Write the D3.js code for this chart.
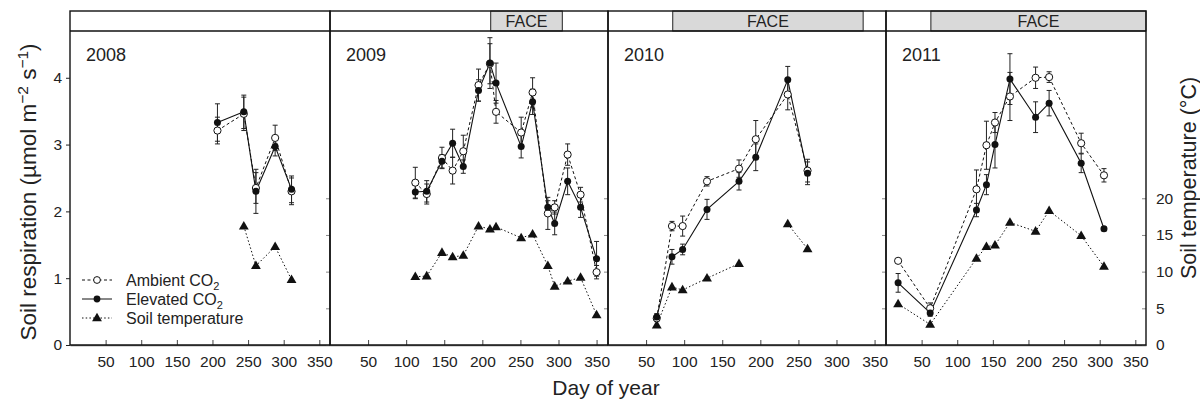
<!DOCTYPE html>
<html>
<head>
<meta charset="utf-8">
<script src="https://cdn.jsdelivr.net/npm/d3@7"></script>
<style>
  body { margin: 0; background: #fff; }
  svg { font-family: "Liberation Sans", Arial, sans-serif; }
</style>
</head>
<body>
<svg id="chart" width="1200" height="401"></svg>
<script>
const years = ["2008", "2009", "2010", "2011"];
const faceStart = [null, 211, 85, 63];
const faceEnd = [null, 305, 335, 365];
const dayTicks = [50, 100, 150, 200, 250, 300, 350];
const respTicks = [0, 1, 2, 3, 4];
const tempTicks = [0, 5, 10, 15, 20];

// 2008
const days2008 = [207, 244, 261, 288, 311];
const ambient2008 = [3.21, 3.46, 2.35, 3.10, 2.30];
const ambientSE2008 = [0.2, 0.25, 0.23, 0.19, 0.2];
const elevated2008 = [3.33, 3.49, 2.30, 2.97, 2.33];
const elevatedSE2008 = [0.28, 0.25, 0.33, 0.14, 0.2];
const tempDays2008 = [244, 261, 288, 311];
const temp2008 = [16.2, 10.8, 13.4, 8.9];

// 2009
const days2009 = [112, 127, 147, 161, 175, 195, 210, 218, 251, 266, 286, 295, 312, 329, 350];
const ambient2009 = [2.43, 2.26, 2.80, 2.61, 2.90, 3.89, 4.21, 3.49, 3.18, 3.78, 1.97, 2.06, 2.85, 2.25, 1.09];
const ambientSE2009 = [0.23, 0.15, 0.16, 0.2, 0.24, 0.24, 0.3, 0.17, 0.23, 0.22, 0.24, 0.1, 0.16, 0.11, 0.1];
const elevated2009 = [2.29, 2.30, 2.75, 3.02, 2.67, 3.81, 4.22, 3.92, 2.97, 3.64, 2.06, 1.82, 2.45, 2.06, 1.29];
const elevatedSE2009 = [0.1, 0.16, 0.1, 0.21, 0.1, 0.16, 0.38, 0.3, 0.17, 0.19, 0.1, 0.17, 0.2, 0.15, 0.26];
const tempDays2009 = [112, 127, 147, 161, 175, 195, 210, 218, 251, 266, 286, 295, 312, 329, 350];
const temp2009 = [9.3, 9.4, 12.6, 12.0, 12.2, 16.2, 15.8, 16.1, 14.6, 15.1, 10.8, 8.0, 8.7, 9.2, 4.1];

// 2010
const days2010 = [64, 84, 98, 130, 172, 194, 236, 262];
const ambient2010 = [0.40, 1.78, 1.78, 2.45, 2.64, 3.08, 3.75, 2.61];
const ambientSE2010 = [0.05, 0.07, 0.15, 0.07, 0.13, 0.28, 0.23, 0.17];
const elevated2010 = [0.42, 1.32, 1.43, 2.03, 2.45, 2.81, 3.97, 2.57];
const elevatedSE2010 = [0.05, 0.11, 0.08, 0.15, 0.13, 0.2, 0.2, 0.17];
const tempDays2010 = [64, 84, 98, 130, 172, null, 236, 262];
const temp2010 = [2.7, 7.9, 7.5, 9.1, 11.1, null, 16.5, 13.1];

// 2011
const days2011 = [17, 62, 127, 141, 153, 174, 210, 229, 274, 306];
const ambient2011 = [1.26, 0.55, 2.33, 2.99, 3.33, 3.72, 4.00, 4.01, 3.02, 2.54];
const ambientSE2011 = [0.03, 0.08, 0.29, 0.36, 0.15, 0.36, 0.16, 0.08, 0.15, 0.1];
const elevated2011 = [0.93, 0.48, 2.02, 2.40, 3.00, 3.98, 3.41, 3.62, 2.72, 1.74];
const elevatedSE2011 = [0.14, 0.05, 0.1, 0.15, 0.35, 0.38, 0.23, 0.19, 0.14, 0.03];
const tempDays2011 = [17, 62, 127, 141, 153, 174, 210, 229, 274, 306];
const temp2011 = [5.6, 2.8, 11.8, 13.4, 13.6, 16.7, 15.5, 18.3, 14.9, 10.7];

const panels = [
  { days: days2008, amb: ambient2008, ambSE: ambientSE2008, elev: elevated2008, elevSE: elevatedSE2008, tDays: tempDays2008, temp: temp2008 },
  { days: days2009, amb: ambient2009, ambSE: ambientSE2009, elev: elevated2009, elevSE: elevatedSE2009, tDays: tempDays2009, temp: temp2009 },
  { days: days2010, amb: ambient2010, ambSE: ambientSE2010, elev: elevated2010, elevSE: elevatedSE2010, tDays: tempDays2010, temp: temp2010 },
  { days: days2011, amb: ambient2011, ambSE: ambientSE2011, elev: elevated2011, elevSE: elevatedSE2011, tDays: tempDays2011, temp: temp2011 }
];

const edges = [70, 330, 608, 886, 1146];
const bandTop = 11;
const plotTop = 31;
const plotBottom = 345;

const svg = d3.select("#chart");

const y = d3.scaleLinear().domain([0, 4.7]).range([plotBottom, plotTop]);
const yT = d3.scaleLinear().domain([0, 42.8]).range([plotBottom, plotTop]);

const triangle = d3.symbol().type(d3.symbolTriangle).size(42);

panels.forEach((p, i) => {
  const x = d3.scaleLinear().domain([0, 365]).range([edges[i], edges[i + 1]]);
  const g = svg.append("g");

  // FACE band
  if (faceStart[i] != null) {
    g.append("rect")
      .attr("x", x(faceStart[i]))
      .attr("y", bandTop)
      .attr("width", x(faceEnd[i]) - x(faceStart[i]))
      .attr("height", plotTop - bandTop)
      .attr("fill", "#d9d9d9")
      .attr("stroke", "#222")
      .attr("stroke-width", 1);
    g.append("text")
      .attr("x", (x(faceStart[i]) + x(faceEnd[i])) / 2)
      .attr("y", 27)
      .attr("text-anchor", "middle")
      .attr("font-size", 16)
      .attr("fill", "#222")
      .text("FACE");
  }

  // x axis
  const xAxis = g.append("g")
    .attr("transform", `translate(0,${plotBottom})`)
    .call(d3.axisBottom(x).tickValues(dayTicks).tickSizeInner(-5).tickSizeOuter(0).tickPadding(11));
  xAxis.select(".domain").attr("stroke", "#666").attr("stroke-width", 1.5);
  xAxis.selectAll(".tick line").attr("stroke", "#444");
  xAxis.selectAll(".tick text").attr("font-size", 15.5).attr("font-family", "Liberation Sans, Arial, sans-serif").attr("fill", "#222");

  // faint temperature ticks on right side
  const rAxis = g.append("g")
    .attr("transform", `translate(${edges[i + 1]},0)`)
    .call(d3.axisRight(yT).tickValues(tempTicks).tickSizeInner(-4).tickSizeOuter(0).tickPadding(10)
      .tickFormat(i === 3 ? d3.format("d") : ""));
  rAxis.select(".domain").remove();
  rAxis.selectAll(".tick line").attr("stroke", "#888");
  rAxis.selectAll(".tick text").attr("font-size", 15.5).attr("font-family", "Liberation Sans, Arial, sans-serif").attr("fill", "#222");

  // panel frame
  g.append("rect")
    .attr("x", edges[i]).attr("y", bandTop)
    .attr("width", edges[i + 1] - edges[i]).attr("height", plotBottom - bandTop)
    .attr("fill", "none").attr("stroke", "#111").attr("stroke-width", 1.4);
  g.append("line")
    .attr("x1", edges[i]).attr("x2", edges[i + 1])
    .attr("y1", plotTop).attr("y2", plotTop)
    .attr("stroke", "#111").attr("stroke-width", 1.4);

  g.append("text")
    .attr("x", edges[i] + 16)
    .attr("y", 61)
    .attr("font-size", 18)
    .attr("fill", "#222")
    .text(years[i]);

  const amb = p.days.map((d, k) => ({ d, v: p.amb[k], se: p.ambSE[k] }));
  const elev = p.days.map((d, k) => ({ d, v: p.elev[k], se: p.elevSE[k] }));
  const temp = p.tDays.map((d, k) => ({ d, t: p.temp[k] }));

  const respLine = d3.line().x(d => x(d.d)).y(d => y(d.v));
  const tempLine = d3.line().defined(d => d.t != null).x(d => x(d.d)).y(d => yT(d.t));

  g.append("path").datum(temp).attr("d", tempLine)
    .attr("fill", "none").attr("stroke", "#111").attr("stroke-width", 1)
    .attr("stroke-dasharray", "1.5,2.2");
  g.append("path").datum(amb).attr("d", respLine)
    .attr("fill", "none").attr("stroke", "#111").attr("stroke-width", 1)
    .attr("stroke-dasharray", "3,2.5");
  g.append("path").datum(elev).attr("d", respLine)
    .attr("fill", "none").attr("stroke", "#111").attr("stroke-width", 1.1);

  // error bars
  [amb, elev].forEach(series => {
    const eb = g.append("g").attr("stroke", "#222").attr("stroke-width", 1);
    series.forEach(d => {
      const cx = x(d.d);
      const y0 = y(d.v - d.se), y1 = y(d.v + d.se);
      eb.append("line").attr("x1", cx).attr("x2", cx).attr("y1", y0).attr("y2", y1);
      eb.append("line").attr("x1", cx - 2.5).attr("x2", cx + 2.5).attr("y1", y0).attr("y2", y0);
      eb.append("line").attr("x1", cx - 2.5).attr("x2", cx + 2.5).attr("y1", y1).attr("y2", y1);
    });
  });

  g.selectAll(".tri").data(temp.filter(d => d.t != null)).enter()
    .append("path")
    .attr("transform", d => `translate(${x(d.d)},${yT(d.t) + 0.5})`)
    .attr("d", triangle)
    .attr("fill", "#111");

  g.selectAll(".amb").data(amb).enter()
    .append("circle")
    .attr("cx", d => x(d.d)).attr("cy", d => y(d.v)).attr("r", 3.6)
    .attr("fill", "#fff").attr("stroke", "#111").attr("stroke-width", 1);

  g.selectAll(".elev").data(elev).enter()
    .append("circle")
    .attr("cx", d => x(d.d)).attr("cy", d => y(d.v)).attr("r", 3.5)
    .attr("fill", "#111");
});

// left axis
const yAxis = svg.append("g")
  .attr("transform", `translate(${edges[0]},0)`)
  .call(d3.axisLeft(y).tickValues(respTicks).tickFormat(d3.format("d")).tickSize(4).tickPadding(4));
yAxis.select(".domain").remove();
yAxis.selectAll(".tick line").attr("stroke", "#222");
yAxis.selectAll(".tick text").attr("font-size", 15.5).attr("font-family", "Liberation Sans, Arial, sans-serif").attr("fill", "#222");

// axis titles
const yTitle = svg.append("text")
  .attr("transform", "translate(36,192) rotate(-90)")
  .attr("text-anchor", "middle")
  .attr("font-size", 22.5)
  .attr("fill", "#222");
yTitle.append("tspan").text("Soil respiration (µmol m");
yTitle.append("tspan").attr("font-size", 15.5).attr("dy", -8).text("−2");
yTitle.append("tspan").attr("dy", 8).text(" s");
yTitle.append("tspan").attr("font-size", 15.5).attr("dy", -8).text("−1");
yTitle.append("tspan").attr("dy", 8).text(")");

svg.append("text")
  .attr("transform", "translate(1196,178) rotate(-90)")
  .attr("text-anchor", "middle")
  .attr("font-size", 21.5)
  .attr("fill", "#222")
  .text("Soil temperature (°C)");

svg.append("text")
  .attr("x", 606).attr("y", 395)
  .attr("text-anchor", "middle")
  .attr("font-size", 21)
  .attr("fill", "#222")
  .text("Day of year");

// legend
const legend = svg.append("g");
const legendRows = [
  { label: "Ambient CO", sub: "2", dash: "3,2.5", mark: "open" },
  { label: "Elevated CO", sub: "2", dash: null, mark: "filled" },
  { label: "Soil temperature", sub: null, dash: "1.5,2.2", mark: "tri" }
];
legendRows.forEach((r, k) => {
  const ly = 280 + k * 19;
  legend.append("line")
    .attr("x1", 82).attr("x2", 112).attr("y1", ly).attr("y2", ly)
    .attr("stroke", "#111").attr("stroke-width", 1)
    .attr("stroke-dasharray", r.dash);
  if (r.mark === "open") {
    legend.append("circle").attr("cx", 97).attr("cy", ly).attr("r", 3.4)
      .attr("fill", "#fff").attr("stroke", "#111");
  } else if (r.mark === "filled") {
    legend.append("circle").attr("cx", 97).attr("cy", ly).attr("r", 3.4).attr("fill", "#111");
  } else {
    legend.append("path").attr("transform", `translate(97,${ly + 0.5})`).attr("d", triangle).attr("fill", "#111");
  }
  const t = legend.append("text")
    .attr("x", 126).attr("y", ly + 5.5)
    .attr("font-size", 16).attr("fill", "#222");
  t.append("tspan").text(r.label);
  if (r.sub) t.append("tspan").attr("font-size", 11).attr("dy", 4).text(r.sub);
});
</script>
</body>
</html>
